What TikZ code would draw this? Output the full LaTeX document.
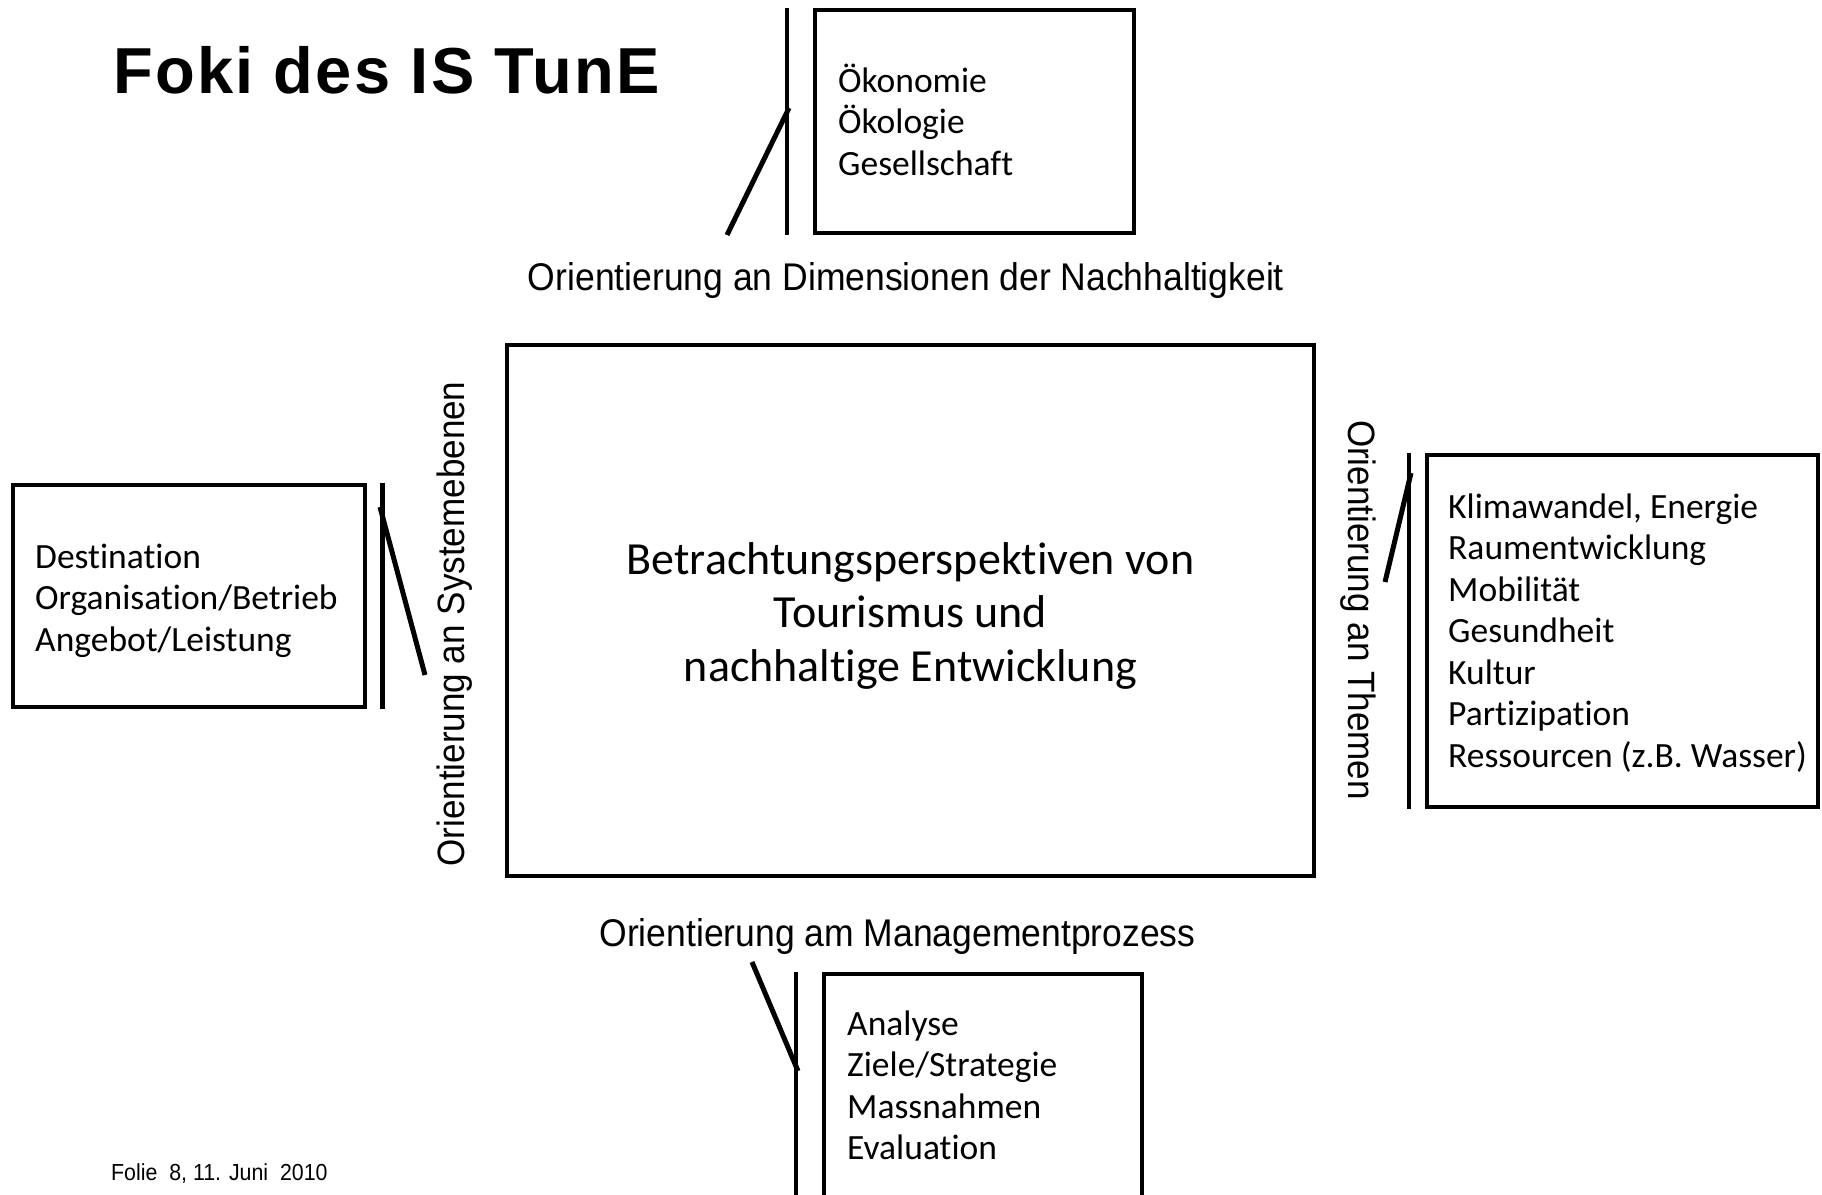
\documentclass[tikz,border=0pt]{standalone}
\usepackage{fontspec}
\newfontfamily\calib[Ligatures=NoCommon]{Carlito}
\newfontfamily\arl[FakeStretch=0.92]{Liberation Sans}
\newfontfamily\ttlfont[LetterSpace=3.5]{Liberation Sans}
\begin{document}
\begin{tikzpicture}[x=1pt,y=-1pt,
  box/.style={draw, line width=4.5pt, inner sep=0pt, rectangle},
  bar/.style={line width=4.5pt},
  slant/.style={line width=5pt},
  listtxt/.style={anchor=base west, inner sep=0pt, font=\calib\fontsize{35.5}{41.5}\selectfont},
  lab/.style={inner sep=0pt, font=\arl\fontsize{38.6}{44}\selectfont},
  vlab/.style={inner sep=0pt, font=\arl\fontsize{38.1}{44}\selectfont}]
\useasboundingbox[fill=white] (0,0) rectangle (1822,1194);

% title
\node[anchor=base west, inner sep=0pt, font=\ttlfont\bfseries\fontsize{65}{74}\selectfont] (title) at (113,93) {Foki des IS TunE};

% boxes
\node[box, minimum width=319pt, minimum height=223pt] (topbox) at (974.5,121.5) {};
\node[box, minimum width=352pt, minimum height=222pt] (leftbox) at (189,596) {};
\node[box, minimum width=391pt, minimum height=352pt] (rightbox) at (1622.5,631) {};
\node[box, minimum width=318pt, minimum height=266pt] (botbox) at (983,1107) {};
\node[box, minimum width=807pt, minimum height=531pt] (center) at (910.5,610.5) {};

% box texts
\node[listtxt] (toptxt) at (838,92) {\begin{tabular}[t]{@{}l@{}}Ökonomie\\Ökologie\\Gesellschaft\end{tabular}};
\node[listtxt] (lefttxt) at (35,568) {\begin{tabular}[t]{@{}l@{}}Destination\\Organisation/Betrieb\\Angebot/Leistung\end{tabular}};
\node[listtxt] (righttxt) at (1448,518) {\begin{tabular}[t]{@{}l@{}}Klimawandel, Energie\\Raumentwicklung\\Mobilität\\Gesundheit\\Kultur\\Partizipation\\Ressourcen (z.B. Wasser)\end{tabular}};
\node[listtxt] (bottxt) at (847,1035) {\begin{tabular}[t]{@{}l@{}}Analyse\\Ziele/Strategie\\Massnahmen\\Evaluation\end{tabular}};

\node[anchor=base, inner sep=0pt, font=\calib\fontsize{46}{53.5}\selectfont] (centertxt) at (910.5,574) {\begin{tabular}[t]{@{}c@{}}Betrachtungsperspektiven von\\Tourismus und\\nachhaltige Entwicklung\end{tabular}};

% orientation labels
\node[lab, anchor=base] (labtop) at (906,290) {Orientierung an Dimensionen der Nachhaltigkeit};
\node[lab, anchor=base] (labbot) at (897.5,946) {Orientierung am Managementprozess};
\node[vlab, rotate=90] (lableft) at (455,624) {Orientierung an Systemebenen};
\node[vlab, rotate=-90] (labright) at (1358,610) {Orientierung an Themen};

% brackets
\coordinate (tA) at ([xshift=-26pt]topbox.north west);
\coordinate (tB) at ([xshift=-26pt]topbox.south west);
\coordinate (tK) at (789,108);
\coordinate (tE) at (727,235);
\draw[bar] (tA) -- (tB);
\draw[slant] (tK) -- (tE);

\coordinate (lA) at ([xshift=15pt]leftbox.north east);
\coordinate (lB) at ([xshift=15pt]leftbox.south east);
\coordinate (lK) at (380,507);
\coordinate (lE) at (425,675);
\draw[bar] (lA) -- (lB);
\draw[slant] (lK) -- (lE);

\coordinate (rA) at ([xshift=-16pt]rightbox.north west);
\coordinate (rB) at ([xshift=-16pt]rightbox.south west);
\coordinate (rK) at (1411,473);
\coordinate (rE) at (1385,582);
\draw[bar] (rA) -- (rB);
\draw[slant] (rK) -- (rE);

\coordinate (bA) at ([xshift=-26pt]botbox.north west);
\coordinate (bB) at ([xshift=-26pt]botbox.south west);
\coordinate (bK) at (798,1071);
\coordinate (bE) at (752,962);
\draw[bar] (bA) -- (bB);
\draw[slant] (bK) -- (bE);

% footer
\node[anchor=base west, inner sep=0pt, font=\arl\fontsize{23.2}{28}\selectfont] (footer) at (111,1180) {Folie\ \ 8, 11. Juni\ \ 2010};
\end{tikzpicture}
\end{document}
